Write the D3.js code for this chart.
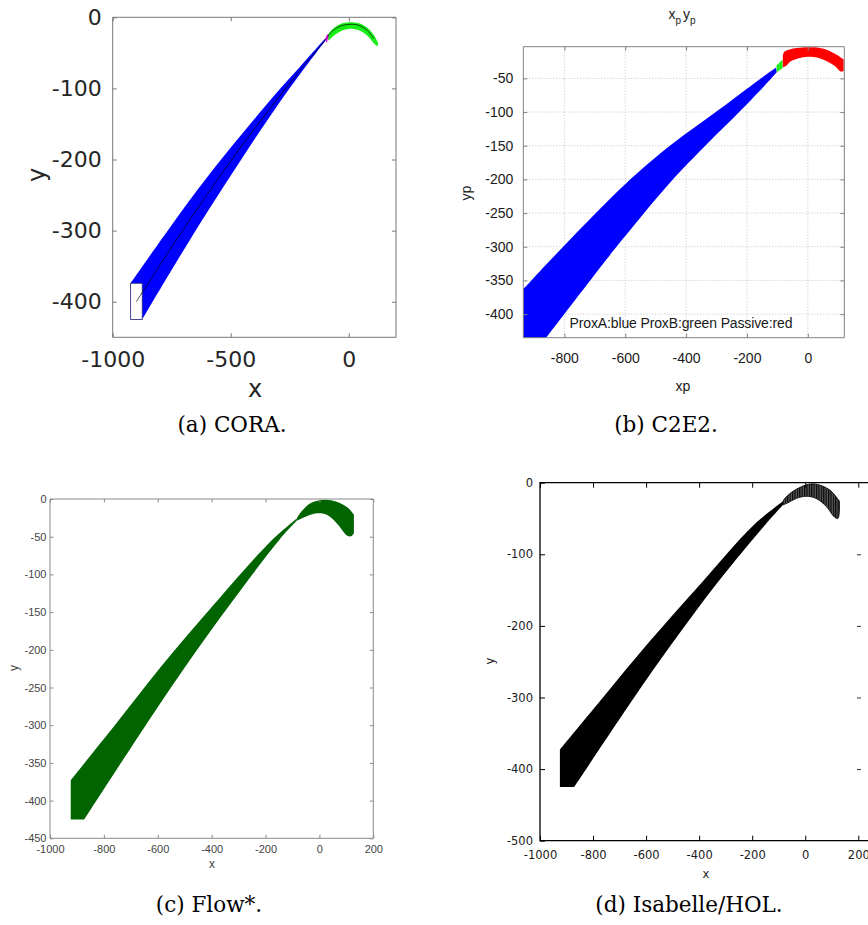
<!DOCTYPE HTML>
<html>
<head>
<meta charset="utf-8">
<title>Reachable sets</title>
<script src="https://d3js.org/d3.v7.min.js"></script>
<style>
body { margin: 0; background: #ffffff; }
</style>
</head>
<body>
<script>

"use strict";

// (a) CORA
const coraUpper = [[-924, -374], [-750, -292], [-600, -225], [-450, -163], [-300, -104], [-200, -67], [-99, -29.5]];
const coraLower = [[-875, -425], [-750, -355], [-600, -274], [-450, -197], [-300, -123], [-200, -77], [-99, -33]];
const coraCorner = [-924, -425];
const coraCenter = [[-900, -400], [-750, -323], [-600, -249], [-450, -179], [-300, -114], [-200, -72], [-95, -30],
  [-78, -22], [-40, -13], [0, -10], [40, -11], [80, -19], [106, -30]];
const coraArcUpper = [[-92, -26], [-70, -17], [-40, -10], [0, -7], [40, -8], [80, -15], [108, -26], [124, -36]];
const coraArcLower = [[122, -41], [105, -36], [75, -25], [40, -18], [5, -16], [-30, -19], [-60, -25], [-85, -33]];
const coraMagenta = [[-100, -31], [-92, -23], [-85, -27], [-94, -36]];
const coraInitX = [-924, -875];
const coraInitY = [-425, -374];
const coraXTicks = [-1000, -500, 0];
const coraYTicks = [0, -100, -200, -300, -400];

// (b) C2E2
const c2Upper = [[-935, -363], [-800, -298], [-595, -205], [-447, -148], [-290, -96], [-160, -52], [-104, -34]];
const c2Lower = [[-860, -435], [-715, -350], [-632, -302], [-453, -205], [-332, -148], [-223, -99], [-124, -52], [-102, -41]];
const c2Corner = [-935, -435];
const c2Green = [[-103, -31], [-83, -22], [-83, -35], [-102, -41]];
const c2RedUpper = [[-82, -17], [-78, -11], [-60, -7], [-36, -5], [0, -4], [40, -5], [70, -9], [95, -15], [118, -22]];
const c2RedLower = [[118, -39], [108, -40], [90, -32], [64, -25], [30, -19], [0, -18], [-30, -20], [-57, -25], [-70, -31], [-82, -34]];
const c2XTicks = [-800, -600, -400, -200, 0];
const c2YTicks = [-50, -100, -150, -200, -250, -300, -350, -400];

// (c) Flow*
const flowUpper = [[-923, -373], [-753, -297], [-592, -224], [-394, -141], [-183, -57], [-84, -26]];
const flowLower = [[-873, -425], [-641, -298], [-505, -226], [-332, -140], [-146, -53], [-84, -29]];
const flowCorner = [-923, -425];
const flowArcUpper = [[-84, -26], [-72, -19], [-35, -6], [15, -1], [64, -3.5], [107, -12], [128, -21]];
const flowArcLower = [[128, -45], [120, -49], [105, -49], [64, -32], [27, -21], [-10, -19], [-47, -23], [-72, -27], [-84, -29]];
const flowXTicks = [-1000, -800, -600, -400, -200, 0, 200];
const flowYTicks = [0, -50, -100, -150, -200, -250, -300, -350, -400, -450];

// (d) Isabelle/HOL
const isaUpper = [[-925, -373], [-758, -298], [-592, -224], [-394, -141], [-197, -60], [-84, -26]];
const isaLower = [[-871, -425], [-645, -300], [-505, -226], [-332, -140], [-147, -57], [-84, -31]];
const isaCorner = [-925, -425];
const isaArcUpper = [[-84, -26], [-75, -21], [-46, -12], [4, -3], [41, -2], [92, -10], [129, -26]];
const isaArcLower = [[129, -40], [123, -50], [110, -48], [79, -33], [41, -22], [4, -19], [-34, -22], [-65, -28], [-84, -31]];
const isaXTicks = [-1000, -800, -600, -400, -200, 0, 200];
const isaYTicks = [0, -100, -200, -300, -400, -500];

const svg = d3.select("body").append("svg")
  .attr("width", 868)
  .attr("height", 925);

svg.append("rect").attr("width", 868).attr("height", 925).attr("fill", "#ffffff");

const defs = svg.append("defs");
const hatch = defs.append("pattern")
  .attr("id", "hatch")
  .attr("patternUnits", "userSpaceOnUse")
  .attr("width", 2.4)
  .attr("height", 4);
hatch.append("rect").attr("width", 2.4).attr("height", 4).attr("fill", "#5a5a5a");
hatch.append("line").attr("x1", 0.6).attr("x2", 0.6).attr("y1", 0).attr("y2", 4)
  .attr("stroke", "#000").attr("stroke-width", 1.1);

function lineOf(x, y, curve) {
  return d3.line().x((p) => x(p[0])).y((p) => y(p[1])).curve(curve || d3.curveLinear);
}

// a closed region made of two smooth edges, and an optional corner point
function region(g, x, y, edgeA, edgeB, corner, fill) {
  const ln = lineOf(x, y, d3.curveCatmullRom.alpha(0.5));
  let d = ln(edgeA) + ln(edgeB).replace("M", "L");
  if (corner) d += "L" + x(corner[0]) + "," + y(corner[1]);
  return g.append("path").attr("d", d + "Z").attr("fill", fill);
}

function polygon(g, x, y, pts, fill) {
  return g.append("path").attr("d", lineOf(x, y)(pts) + "Z").attr("fill", fill);
}

function axes(g, x, y, o) {
  const [x0, x1] = x.range();
  const [y0, y1] = y.range();
  const fmt = (d) => String(d);
  const style = (sel) => {
    sel.select(".domain").remove();
    sel.selectAll("line").attr("stroke", o.tickColor || o.frame);
    sel.selectAll("text")
      .attr("font-family", o.font)
      .attr("font-size", o.size)
      .attr("fill", o.text);
  };
  g.append("g").attr("transform", "translate(0," + y0 + ")")
    .call(d3.axisBottom(x).tickValues(o.xTicks).tickFormat(fmt).tickSizeInner(-o.tick).tickSizeOuter(0).tickPadding(o.padX))
    .call(style);
  g.append("g").attr("transform", "translate(" + x0 + ",0)")
    .call(d3.axisLeft(y).tickValues(o.yTicks).tickFormat(fmt).tickSizeInner(-o.tick).tickSizeOuter(0).tickPadding(o.padY))
    .call(style);
  g.append("g").attr("transform", "translate(0," + y1 + ")")
    .call(d3.axisTop(x).tickValues(o.xTicks).tickFormat("").tickSizeInner(-o.tick).tickSizeOuter(0))
    .call(style);
  if (o.right !== false) {
    g.append("g").attr("transform", "translate(" + x1 + ",0)")
      .call(d3.axisRight(y).tickValues(o.yTicks).tickFormat("").tickSizeInner(-o.tick).tickSizeOuter(0))
      .call(style);
  }
  const b = g.append("path")
    .attr("fill", "none")
    .attr("stroke", o.frame)
    .attr("stroke-width", o.frameWidth || 1);
  if (o.right !== false) {
    b.attr("d", "M" + x0 + "," + y1 + "H" + x1 + "V" + y0 + "H" + x0 + "Z");
  } else {
    b.attr("d", "M" + x1 + "," + y1 + "H" + x0 + "V" + y0 + "H" + x1);
  }
}

function label(text, px, py, font, size, color, rotate, anchor) {
  const t = svg.append("text")
    .attr("x", px)
    .attr("y", py)
    .attr("font-family", font)
    .attr("font-size", size)
    .attr("fill", color)
    .attr("text-anchor", anchor || "middle")
    .text(text);
  if (rotate) t.attr("transform", "rotate(-90," + px + "," + py + ")");
  return t;
}

const serif = "'DejaVu Serif', serif";
const rev = (a) => a.slice().reverse();

// ---------- (a) CORA ----------
{
  const x = d3.scaleLinear().domain([-1000, 200]).range([112.7, 396]);
  const y = d3.scaleLinear().domain([-450, 0]).range([337.3, 17.3]);
  const g = svg.append("g");
  region(g, x, y, coraUpper, rev(coraLower), coraCorner, "#0000ff");
  region(g, x, y, coraArcUpper, coraArcLower, null, "#16ee16");
  polygon(g, x, y, coraMagenta, "#ff00ff");
  g.append("rect")
    .attr("x", x(coraInitX[0]))
    .attr("y", y(coraInitY[1]))
    .attr("width", x(coraInitX[1]) - x(coraInitX[0]))
    .attr("height", y(coraInitY[0]) - y(coraInitY[1]))
    .attr("fill", "#ffffff")
    .attr("stroke", "#2a2a7a")
    .attr("stroke-width", 0.8);
  g.append("path")
    .attr("d", lineOf(x, y, d3.curveCatmullRom.alpha(0.5))(coraCenter))
    .attr("fill", "none")
    .attr("stroke", "#000")
    .attr("stroke-width", 0.7);
  axes(g, x, y, {
    xTicks: coraXTicks, yTicks: coraYTicks, tick: 4, padX: 14, padY: 11,
    font: "'DejaVu Sans', sans-serif", size: 22, text: "#262626", frame: "#777"
  });
  label("x", 255, 397, "'DejaVu Sans', sans-serif", 24, "#262626");
  label("y", 45, 175, "'DejaVu Sans', sans-serif", 24, "#262626", true);
  label("(a) CORA.", 232, 432, serif, 21.5, "#000");
}

// ---------- (b) C2E2 ----------
{
  const x = d3.scaleLinear().domain([-935, 120]).range([523.3, 844.3]);
  const y = d3.scaleLinear().domain([-435, -3]).range([337.7, 46.7]);
  const g = svg.append("g");
  const grid = g.append("g")
    .attr("stroke", "#b4b4b4")
    .attr("stroke-width", 0.8)
    .attr("stroke-dasharray", "1,2");
  grid.selectAll(".gx").data(c2XTicks).enter().append("line")
    .attr("x1", (d) => x(d)).attr("x2", (d) => x(d))
    .attr("y1", y.range()[0]).attr("y2", y.range()[1]);
  grid.selectAll(".gy").data(c2YTicks).enter().append("line")
    .attr("y1", (d) => y(d)).attr("y2", (d) => y(d))
    .attr("x1", x.range()[0]).attr("x2", x.range()[1]);
  region(g, x, y, c2Upper, rev(c2Lower), c2Corner, "#0000ff");
  polygon(g, x, y, c2Green, "#22ee22");
  region(g, x, y, c2RedUpper, c2RedLower, null, "#ff0000");
  axes(g, x, y, {
    xTicks: c2XTicks, yTicks: c2YTicks, tick: 4, padX: 15, padY: 10,
    font: "'Liberation Sans', Arial, sans-serif", size: 14, text: "#1a1a1a", frame: "#808080"
  });
  const t = svg.append("text")
    .attr("x", 682).attr("y", 19)
    .attr("font-family", "'Liberation Sans', Arial, sans-serif")
    .attr("font-size", 14)
    .attr("fill", "#1a1a1a")
    .attr("text-anchor", "middle");
  t.append("tspan").text("x");
  t.append("tspan").attr("dy", 5).attr("font-size", 10).text("p");
  t.append("tspan").attr("dy", -5).attr("dx", 2).text("y");
  t.append("tspan").attr("dy", 5).attr("font-size", 10).text("p");
  label("ProxA:blue ProxB:green Passive:red", 681, 328, "'Liberation Sans', Arial, sans-serif", 14, "#1a1a1a")
    .attr("textLength", 223);
  label("xp", 683, 391, "'Liberation Sans', Arial, sans-serif", 14, "#1a1a1a");
  label("yp", 471, 193, "'Liberation Sans', Arial, sans-serif", 14, "#1a1a1a", true);
  label("(b) C2E2.", 666, 432, serif, 21.5, "#000");
}

// ---------- (c) Flow* ----------
{
  const x = d3.scaleLinear().domain([-1000, 200]).range([50, 373.3]);
  const y = d3.scaleLinear().domain([-450, 0]).range([838.3, 499]);
  const g = svg.append("g");
  region(g, x, y, flowUpper, rev(flowLower), flowCorner, "#006400");
  region(g, x, y, flowArcUpper, flowArcLower, null, "#006400");
  axes(g, x, y, {
    xTicks: flowXTicks, yTicks: flowYTicks, tick: 3.5, padX: 7, padY: 3.5,
    font: "'Liberation Sans', Arial, sans-serif", size: 11, text: "#444", frame: "#8a8a8a"
  });
  label("x", 212, 868, "'Liberation Sans', Arial, sans-serif", 12, "#444");
  label("y", 18, 668, "'Liberation Sans', Arial, sans-serif", 12, "#444", true);
  label("(c) Flow*.", 209, 912, serif, 21.5, "#000");
}

// ---------- (d) Isabelle/HOL ----------
{
  const x = d3.scaleLinear().domain([-1000, 240]).range([540, 868.9]);
  const y = d3.scaleLinear().domain([-500, 0]).range([840.7, 482.7]);
  const g = svg.append("g");
  region(g, x, y, isaUpper, rev(isaLower), isaCorner, "#000000");
  region(g, x, y, isaArcUpper, isaArcLower, null, "url(#hatch)")
    .attr("stroke", "#000").attr("stroke-width", 0.8);
  axes(g, x, y, {
    xTicks: isaXTicks, yTicks: isaYTicks, tick: 5, padX: 10, padY: 7, right: false,
    font: "'DejaVu Sans', sans-serif", size: 11.5, text: "#1a1a1a", frame: "#000", frameWidth: 1.3
  });
  g.append("g").attr("transform", "translate(861,0)")
    .call(d3.axisLeft(y).tickValues(isaYTicks.slice(1, 5)).tickFormat("").tickSizeInner(4).tickSizeOuter(0))
    .call((sel) => { sel.select(".domain").remove(); sel.selectAll("line").attr("stroke", "#333"); });
  label("x", 706, 878, "'DejaVu Sans', sans-serif", 11.5, "#1a1a1a");
  label("y", 494, 661, "'DejaVu Sans', sans-serif", 11.5, "#1a1a1a", true);
  label("(d) Isabelle/HOL.", 689, 912, serif, 21.5, "#000");
}

</script>
</body>
</html>
